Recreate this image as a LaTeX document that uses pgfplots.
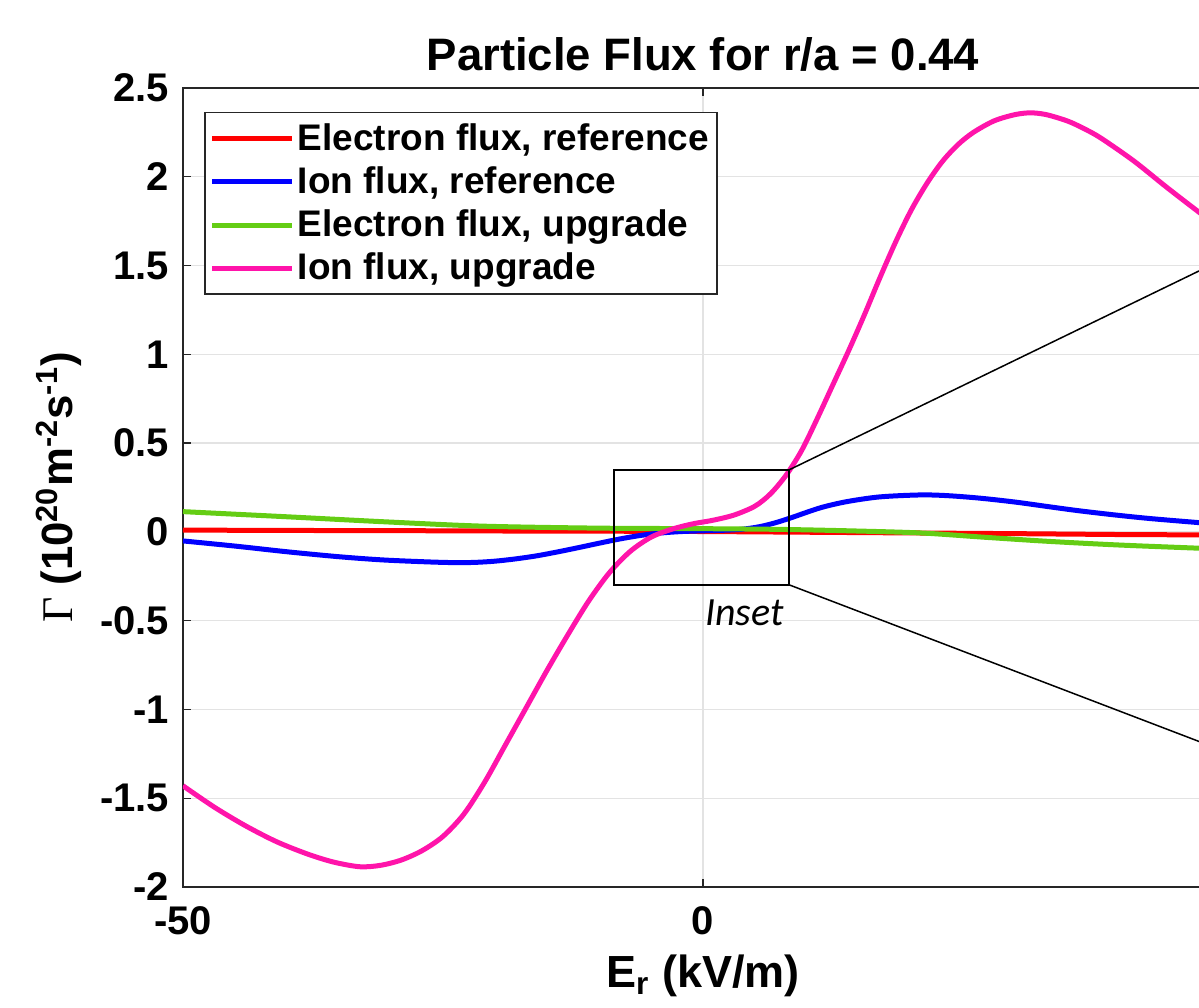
\documentclass[border=0pt]{standalone}
\usepackage{pgfplots}
\pgfplotsset{compat=1.18}
\usepackage{fontspec}
\setmainfont{Liberation Sans}
\newfontfamily\serifg{Liberation Serif}
\newfontfamily\calib{Carlito}
\definecolor{cgreen}{RGB}{100,205,20}
\definecolor{cmag}{RGB}{255,20,170}
\definecolor{axgray}{RGB}{38,38,38}
\begin{document}
\begin{tikzpicture}
\begin{axis}[
  at={(0,0)}, anchor=south west,
  scale only axis, width=416pt, height=319.6pt,
  xmin=-50, xmax=50, ymin=-2, ymax=2.5,
  xtick={-50,0,50},
  ytick={-2,-1.5,-1,-0.5,0,0.5,1,1.5,2,2.5},
  /pgf/number format/assume math mode=true,
  /pgf/number format/fixed,
  tick label style={font=\bfseries\fontsize{16}{17}\selectfont},
  yticklabel style={xshift=-2pt},
  xticklabel style={yshift=-4.5pt},
  tick align=inside, major tick length=3.2pt,
  every tick/.style={axgray, line width=0.5pt},
  axis line style={axgray, line width=0.6pt},
  grid=major, grid style={gray!22, line width=0.5pt},
  title={\bfseries Particle Flux for r/a = 0.44},
  title style={font=\bfseries\fontsize{18.2}{21}\selectfont, yshift=-3pt},
  xlabel={\bfseries E\textsubscript{r} (kV/m)},
  xlabel style={font=\bfseries\fontsize{18}{20}\selectfont, yshift=-1pt},
  ylabel={{\serifg\mdseries Γ} \bfseries(10\textsuperscript{20}m\textsuperscript{-2}s\textsuperscript{-1})},
  ylabel style={font=\bfseries\fontsize{17.5}{20}\selectfont, yshift=0.5pt},
  legend style={at={(rel axis cs:0.0202,0.97)}, anchor=north west,
    draw=axgray, line width=0.6pt, fill=white,
    font=\bfseries\fontsize{14.8}{17.6}\selectfont,
    inner xsep=2pt, inner ysep=2.2pt, row sep=1.1pt,
    nodes={inner xsep=1.2pt, inner ysep=2pt}},
  legend cell align=left,
  legend image code/.code={\draw[#1, line width=2pt] (0pt,0pt) -- (32pt,0pt);},
  every axis plot/.append style={line width=2pt},
]
\addplot[red] coordinates {
(-50,0.010) (-40,0.008) (-30,0.007) (-20,0.005) (-10,0.004) (0,0.002)
(10,-0.002) (20,-0.006) (30,-0.010) (40,-0.015) (47.7,-0.017) (50,-0.018)};
\addlegendentry{Electron flux, reference}
\addplot[blue, smooth, tension=0.5] coordinates {
(-50,-0.051) (-45,-0.080) (-40,-0.112) (-35,-0.140) (-30.8,-0.158) (-26.5,-0.169)
(-24,-0.173) (-22,-0.172) (-20,-0.165) (-18,-0.152) (-16,-0.135) (-14,-0.113)
(-12,-0.089) (-10,-0.064) (-8,-0.040) (-6,-0.020) (-4,-0.006) (-2,0.002) (0,0.006)
(2,0.009) (3.8,0.015) (5.5,0.030) (7,0.052) (8.5,0.080) (11.25,0.135) (13.8,0.170)
(17,0.197) (20.9,0.208) (23.5,0.204) (26.6,0.190) (30,0.168) (33.1,0.143)
(36,0.120) (39.5,0.096) (43,0.075) (47.7,0.052) (50,0.042)};
\addlegendentry{Ion flux, reference}
\addplot[cgreen, smooth, tension=0.5] coordinates {
(-50,0.114) (-40,0.085) (-30,0.055) (-21,0.032) (-10,0.021) (0,0.018)
(7.4,0.014) (14,0.006) (20.9,-0.006) (27,-0.030) (33.1,-0.053) (40,-0.074)
(47.7,-0.092) (50,-0.097)};
\addlegendentry{Electron flux, upgrade}
\addplot[cmag, smooth, tension=0.5] coordinates {
(-50,-1.43) (-47,-1.55) (-44,-1.655) (-41,-1.745) (-38,-1.815) (-35.5,-1.86)
(-33,-1.886) (-31,-1.878) (-29,-1.848) (-27,-1.795) (-25,-1.715) (-23,-1.59)
(-21,-1.41) (-19,-1.20) (-17,-0.99) (-15,-0.78) (-13,-0.58) (-11,-0.39)
(-9,-0.23) (-7,-0.11) (-5,-0.03) (-3,0.015) (-1,0.045) (1,0.066) (3,0.095)
(5,0.145) (6.5,0.215) (8,0.32) (9.5,0.46) (11,0.64) (12.5,0.83) (14,1.02)
(15.5,1.22) (17,1.43) (18.5,1.63) (20,1.81) (21.5,1.96) (23,2.085) (24.5,2.18)
(26,2.25) (28,2.315) (30,2.35) (31.5,2.36) (33,2.35) (35,2.315) (36.5,2.275)
(38.2,2.22) (41.4,2.09) (44.6,1.94) (47.7,1.80) (50,1.70)};
\addlegendentry{Ion flux, upgrade}
\draw[black, line width=0.8pt] (axis cs:-8.56,-0.298) rectangle (axis cs:8.27,0.349);
\draw[black, line width=0.6pt] (axis cs:8.27,0.349) -- (axis cs:50,1.535);
\draw[black, line width=0.6pt] (axis cs:8.27,-0.298) -- (axis cs:50,-1.232);
\node[font=\calib\itshape\fontsize{16}{18}\selectfont] at (axis cs:4.0,-0.456) {Inset};
\end{axis}
\pgfresetboundingbox
\useasboundingbox (-73.2pt,-48.4pt) rectangle (406.4pt,354.8pt);
\end{tikzpicture}
\end{document}
